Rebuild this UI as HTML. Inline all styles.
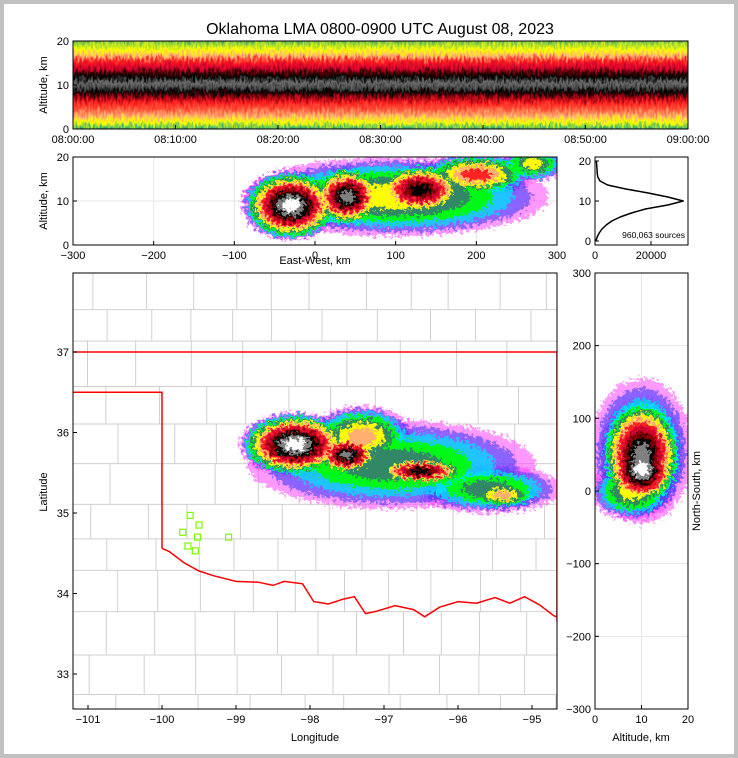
<!DOCTYPE html>
<html><head><meta charset="utf-8">
<style>
html,body{margin:0;padding:0;background:#c0c0c0;}
#wrap{position:absolute;left:4px;top:4px;width:730px;height:750px;background:#fff;}
svg{position:absolute;left:0;top:0;font-family:"Liberation Sans",sans-serif;}
</style></head>
<body>
<div id="wrap"></div>
<svg id="s" width="738" height="758">
<defs>
<filter id="rough" x="-20%" y="-20%" width="140%" height="140%">
<feTurbulence type="fractalNoise" baseFrequency="0.3" numOctaves="3" seed="3" result="n"/>
<feDisplacementMap in="SourceGraphic" in2="n" scale="14" xChannelSelector="R" yChannelSelector="G"/>
</filter>
<filter id="rough2" x="0" y="-10%" width="100%" height="120%">
<feTurbulence type="fractalNoise" baseFrequency="0.45 0.15" numOctaves="2" seed="7" result="n"/>
<feDisplacementMap in="SourceGraphic" in2="n" scale="14" xChannelSelector="R" yChannelSelector="G"/>
</filter>
<clipPath id="c1"><rect x="73" y="41" width="615" height="88"/></clipPath>
<clipPath id="c2"><rect x="73" y="157" width="484" height="88"/></clipPath>
<clipPath id="c3"><rect x="73" y="273" width="484" height="436"/></clipPath>
<clipPath id="c4"><rect x="595" y="273" width="93" height="436"/></clipPath>
<linearGradient id="band" x1="0" y1="0" x2="0" y2="1">
<stop offset="0" stop-color="#2e8b57"/><stop offset="0.08" stop-color="#8fd040"/>
<stop offset="0.15" stop-color="#ffff00"/><stop offset="0.21" stop-color="#ffb070"/>
<stop offset="0.26" stop-color="#ff2020"/><stop offset="0.33" stop-color="#d00030"/>
<stop offset="0.38" stop-color="#400000"/><stop offset="0.42" stop-color="#000"/>
<stop offset="0.48" stop-color="#707070"/><stop offset="0.53" stop-color="#404040"/>
<stop offset="0.57" stop-color="#000"/><stop offset="0.62" stop-color="#900010"/>
<stop offset="0.68" stop-color="#ff2020"/><stop offset="0.75" stop-color="#ff6040"/>
<stop offset="0.81" stop-color="#ffb070"/><stop offset="0.87" stop-color="#ffff00"/>
<stop offset="0.94" stop-color="#3cb371"/><stop offset="1" stop-color="#2e8b57"/>
</linearGradient>
</defs>
<text x="380" y="34" font-size="16" text-anchor="middle">Oklahoma LMA 0800-0900 UTC August 08, 2023</text>
<g id="g"></g>
</svg>
<script>
const NS="http://www.w3.org/2000/svg";
const G=document.getElementById('g');
function el(t,a,p){const e=document.createElementNS(NS,t);for(const k in a)e.setAttribute(k,a[k]);(p||G).appendChild(e);return e;}
function txt(x,y,s,size,anchor,p,rot){const e=el('text',{x:x,y:y,'font-size':size,'text-anchor':anchor||'middle'},p);if(rot)e.setAttribute('transform','rotate(-90 '+x+' '+y+')');e.textContent=s;return e;}

// ---- data ----
const colorLevels=['#ff44ff','#4040ff','#00e5ff','#00ff00','#338866','#ffff00','#ffb070','#ff2020','#d00030','#800000','#000000','#808080','#ffffff'];
const levelOpacity=[0.55,0.6,0.75,0.9,1,1,1,1,1,1,1,1,1];
const timeTicks=['08:00:00','08:10:00','08:20:00','08:30:00','08:40:00','08:50:00','09:00:00'];
const ewTicks=[-300,-200,-100,0,100,200,300];
const altTicks=[0,10,20];
const histAlt=[0,1,2,3,4,5,6,7,8,9,10,11,12,13,14,15,16,17,18,19,20];
const histCount=[300,800,1500,2500,4000,6000,9000,13000,18000,26000,31500,26000,19000,11000,4500,1800,1000,800,700,600,500];
const histTicks=[0,20000];
const lonTicks=[-101,-100,-99,-98,-97,-96,-95];
const latTicks=[33,34,35,36,37];
const nsTicks=[-300,-200,-100,0,100,200,300];
const altTicks2=[0,10,20];
// blobs: [x, y, rx, ry, levels]
const ewBlobs=[[100,11,190,9,6],[-30,9,60,8,13],[40,11,45,7,12],[130,12.5,60,6,11],[200,16,70,5,8],[270,18.5,40,4,6]];
const mapBlobs=[[-96.9,35.6,1.95,0.55,5],[-95.6,35.3,1.0,0.3,5],[-98.2,35.85,0.75,0.4,13],[-97.5,35.72,0.45,0.25,12],[-97.3,35.95,0.7,0.38,7],[-96.5,35.52,0.65,0.17,11],[-95.4,35.22,0.5,0.17,7]];
const nsBlobs=[[10,55,11,100,5],[10,50,9,80,12],[10,30,8,50,13],[8,0,9,40,6]];
const sites=[[-99.62,34.97],[-99.5,34.85],[-99.72,34.76],[-99.52,34.7],[-99.1,34.7],[-99.65,34.59],[-99.55,34.53]];
const redRiver=[[-100,34.56],[-99.9,34.52],[-99.7,34.38],[-99.5,34.28],[-99.3,34.22],[-99.0,34.15],[-98.7,34.14],[-98.5,34.1],[-98.35,34.15],[-98.1,34.12],[-97.95,33.9],[-97.75,33.87],[-97.55,33.93],[-97.4,33.96],[-97.25,33.75],[-97.1,33.78],[-96.85,33.85],[-96.6,33.8],[-96.45,33.71],[-96.25,33.83],[-96.0,33.9],[-95.75,33.88],[-95.5,33.95],[-95.3,33.88],[-95.1,33.96],[-94.9,33.86],[-94.7,33.72],[-94.55,33.68]];

function frame(x,y,w,h,name){el('rect',{x:x,y:y,width:w,height:h,fill:'none',stroke:'#000','stroke-width':1,});}
function grid(p,coords,vertical,a,b){coords.forEach(c=>{el('line',vertical?{x1:c,x2:c,y1:a,y2:b}:{x1:a,x2:b,y1:c,y2:c},p).setAttribute('stroke','#e6e6e6');});}

// ---- panel 1 ----
(function(){
 const X0=73,X1=688,Y0=129,Y1=41;
 const tx=i=>X0+i/(timeTicks.length-1)*(X1-X0);
 const ya=a=>Y0-a/20*(Y0-Y1);
 const p=el('g',{'clip-path':'url(#c1)'});
 
 el('rect',{x:X0-10,y:Y1-6,width:X1-X0+20,height:Y0-Y1+12,fill:'url(#band)',filter:'url(#rough2)'},p);
 frame(X0,Y1,X1-X0,Y0-Y1,'time-height-panel');
 timeTicks.forEach((t,i)=>{el('line',{x1:tx(i),x2:tx(i),y1:Y0,y2:Y0-4,stroke:'#000'});const e=txt(tx(i),Y0+14,t,11);});
 altTicks.forEach(a=>{el('line',{x1:X0,x2:X0+4,y1:ya(a),y2:ya(a),stroke:'#000'});txt(X0-4,ya(a)+4,a,11,'end');});
 const yt=txt(47,85,'Altitude, km',11,'middle',G,true);
})();

function drawBlobs(p,blobs,fx,fy,sx,sy){
 const maxL=colorLevels.length;
 for(let k=0;k<maxL;k++){
  blobs.forEach(b=>{
   if(k>=b[4])return;
   const f=Math.pow((b[4]-k)/b[4],0.65);
   el('ellipse',{cx:fx(b[0]),cy:fy(b[1]),rx:Math.abs(sx(b[2]))*f,ry:Math.abs(sy(b[3]))*f,fill:colorLevels[k],'fill-opacity':levelOpacity[k]},p);
  });
 }
}

// ---- panel 2 ----
(function(){
 const X0=73,X1=557,Y0=245,Y1=157;
 const fx=v=>X0+(v+300)/600*(X1-X0), fy=a=>Y0-a/20*(Y0-Y1);
 grid(G,ewTicks.map(fx),true,Y1,Y0);grid(G,altTicks.map(fy),false,X0,X1);
 const p=el('g',{'clip-path':'url(#c2)'});
 const q=el('g',{filter:'url(#rough)'},p);
 
 drawBlobs(q,ewBlobs,fx,fy,v=>v/600*(X1-X0),v=>v/20*(Y0-Y1));
 frame(X0,Y1,X1-X0,Y0-Y1,'ew-altitude-panel');
 ewTicks.forEach(t=>{el('line',{x1:fx(t),x2:fx(t),y1:Y0,y2:Y0-4,stroke:'#000'});txt(fx(t),Y0+14,t<0?'\u2212'+(-t):t,11);});
 altTicks.forEach(a=>{el('line',{x1:X0,x2:X0+4,y1:fy(a),y2:fy(a),stroke:'#000'});txt(X0-4,fy(a)+4,a,11,'end');});
 txt(315,264,'East-West, km',11);
 txt(47,201,'Altitude, km',11,'middle',G,true);
})();

// ---- histogram ----
(function(){
 const X0=595,X1=688,Y0=245,Y1=157;
 const fx=v=>X0+v/20000*56, fy=a=>241-a*4;
 grid(G,histTicks.map(fx),true,Y1,Y0);
 const d=histAlt.map((a,i)=>(i?'L':'M')+fx(histCount[i]).toFixed(1)+','+fy(a).toFixed(1)).join('');
 el('path',{d:d,fill:'none',stroke:'#000','stroke-width':1.5,'stroke-linejoin':'round',});
 frame(X0,Y1,X1-X0,Y0-Y1,'histogram-panel');
 histTicks.forEach(t=>{el('line',{x1:fx(t),x2:fx(t),y1:Y0,y2:Y0-4,stroke:'#000'});txt(fx(t),Y0+14,t,11);});
 altTicks.forEach(a=>{el('line',{x1:X0,x2:X0+4,y1:fy(a),y2:fy(a),stroke:'#000'});txt(X0-4,fy(a)+4,a,11,'end');});
 txt(685,238,'960,063 sources',8.5,'end');
})();

// ---- map ----
(function(){
 const X0=73,X1=557,Y0=709,Y1=273;
 const fx=l=>162+(l+100)*74, fy=l=>352+(37-l)*80.5;
 const p=el('g',{'clip-path':'url(#c3)'});
 const cg=el('g',{stroke:'#d0d0d0','stroke-width':1,fill:'none'},p);
 
 let seed=5;const rnd=()=>{seed=(seed*9301+49297)%233280;return seed/233280;};
 let y=273;
 while(y<709){const h=30+rnd()*16;let x=73-rnd()*30;
  el('line',{x1:73,x2:557,y1:y,y2:y},cg);
  while(x<557){const w=34+rnd()*24;el('line',{x1:x,x2:x,y1:y,y2:y+h},cg);x+=w;}
  y+=h;}
 const q=el('g',{filter:'url(#rough)'},p);
 
 drawBlobs(q,mapBlobs,fx,fy,v=>v*74,v=>v*80.5);
 el('path',{d:'M'+X0+','+fy(37)+'L'+X1+','+fy(37)+'M'+X0+','+fy(36.5)+'L'+fx(-100)+','+fy(36.5)+'L'+fx(-100)+','+fy(34.56)+
   redRiver.map(r=>'L'+fx(r[0]).toFixed(1)+','+fy(r[1]).toFixed(1)).join('')+'M'+X1+','+fy(37)+'L'+X1+','+fy(33.65),
   fill:'none',stroke:'#f00','stroke-width':1.5,},p);
 sites.forEach(s=>{el('rect',{x:fx(s[0])-3,y:fy(s[1])-3,width:6,height:6,fill:'none',stroke:'#7cfc00','stroke-width':1.2,},p);});
 frame(X0,Y1,X1-X0,Y0-Y1,'map-panel');
 lonTicks.forEach(t=>{el('line',{x1:fx(t),x2:fx(t),y1:Y0,y2:Y0-4,stroke:'#000'});txt(fx(t),Y0+14,'\u2212'+(-t),11);});
 latTicks.forEach(t=>{el('line',{x1:X0,x2:X0+4,y1:fy(t),y2:fy(t),stroke:'#000'});txt(X0-4,fy(t)+4,t,11,'end');});
 txt(315,741,'Longitude',11);
 txt(47,492,'Latitude',11,'middle',G,true);
})();

// ---- NS-altitude ----
(function(){
 const X0=595,X1=688,Y0=709,Y1=273;
 const fx=a=>X0+a/20*(X1-X0), fy=v=>491-v/300*218;
 grid(G,altTicks2.map(fx),true,Y1,Y0);grid(G,nsTicks.map(fy),false,X0,X1);
 const p=el('g',{'clip-path':'url(#c4)'});
 const q=el('g',{filter:'url(#rough)'},p);
 
 drawBlobs(q,nsBlobs,fx,fy,v=>v/20*(X1-X0),v=>v/300*218);
 frame(X0,Y1,X1-X0,Y0-Y1,'ns-altitude-panel');
 altTicks2.forEach(t=>{el('line',{x1:fx(t),x2:fx(t),y1:Y0,y2:Y0-4,stroke:'#000'});txt(fx(t),Y0+14,t,11);});
 nsTicks.forEach(t=>{el('line',{x1:X0,x2:X0+4,y1:fy(t),y2:fy(t),stroke:'#000'});txt(X0-4,fy(t)+4,t<0?'\u2212'+(-t):t,11,'end');});
 txt(641,741,'Altitude, km',11);
 txt(700,491,'North-South, km',11,'middle',G,true);
})();
</script>
</body></html>
